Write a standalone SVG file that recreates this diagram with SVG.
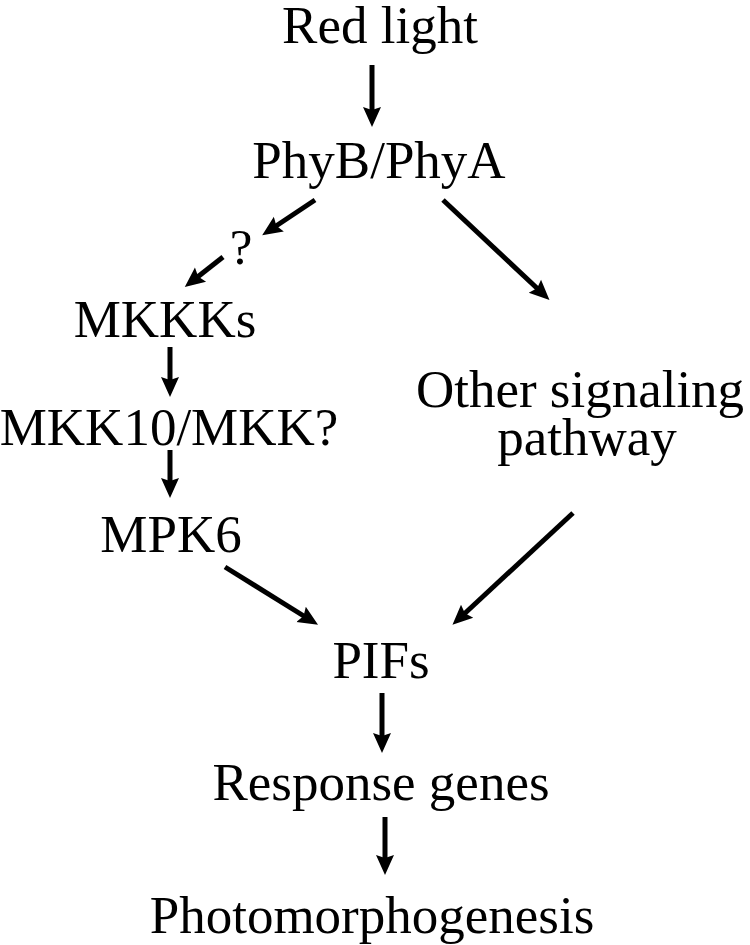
<svg xmlns="http://www.w3.org/2000/svg" width="750" height="945" viewBox="0 0 750 945">
<style>
text{font-family:"Liberation Serif","Times New Roman",serif;font-size:53px;fill:#000;text-anchor:middle}
.c line{stroke:#000;stroke-width:5;marker-end:url(#ah)}
</style>
<defs>
<marker id="ah" markerUnits="userSpaceOnUse" markerWidth="22" markerHeight="22" viewBox="0 0 22 22" refX="7" refY="11" orient="auto">
<path d="M0,2 L20,11 L0,20 L3,11 z" fill="#000"/>
</marker>
</defs>
<rect width="750" height="945" fill="#fff"/>
<g id="red-light"><text x="380" y="43">Red light</text></g>
<g id="phyb-phya"><text x="379" y="178">PhyB/PhyA</text></g>
<g id="question"><text x="241" y="264" style="font-size:51px">?</text></g>
<g id="mkkks"><text x="165" y="337">MKKKs</text></g>
<g id="mkk10"><text x="169" y="445">MKK10/MKK?</text></g>
<g id="mpk6"><text x="171" y="552">MPK6</text></g>
<g id="other"><text x="580" y="407">Other signaling</text><text x="587" y="455">pathway</text></g>
<g id="pifs"><text x="381" y="678">PIFs</text></g>
<g id="response"><text x="381" y="800">Response genes</text></g>
<g id="photo"><text x="372" y="933">Photomorphogenesis</text></g>
<g id="connectors" class="c">
<line x1="372" y1="65" x2="372" y2="114"/>
<line x1="315" y1="200" x2="273" y2="228"/>
<line x1="223" y1="257" x2="195" y2="279"/>
<line x1="443" y1="200" x2="540" y2="291"/>
<line x1="170" y1="347" x2="170" y2="384"/>
<line x1="170" y1="450" x2="170" y2="485"/>
<line x1="225" y1="567" x2="307" y2="618"/>
<line x1="573" y1="513" x2="462" y2="616"/>
<line x1="382" y1="693" x2="382" y2="740"/>
<line x1="385" y1="817" x2="385" y2="862"/>
</g>
</svg>
